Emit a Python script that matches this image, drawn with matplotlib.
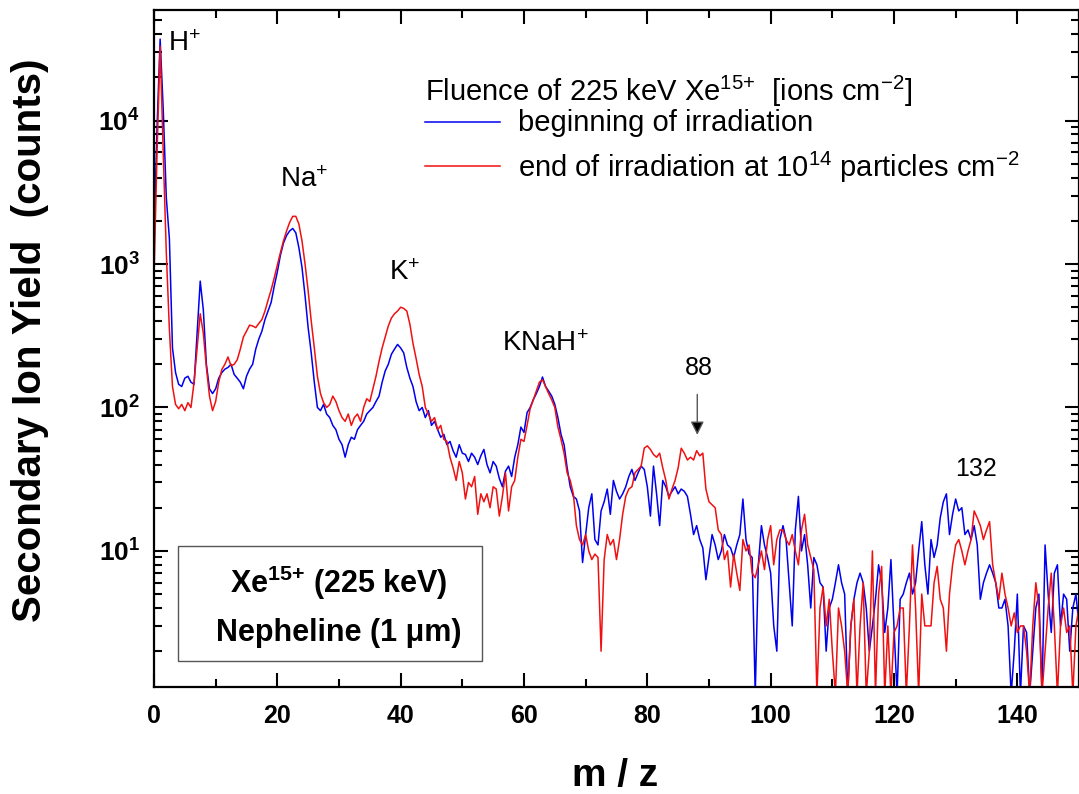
import numpy as np
import matplotlib
matplotlib.use("Agg")
import matplotlib.pyplot as plt
from matplotlib.lines import Line2D
from matplotlib.patches import Rectangle
from matplotlib.ticker import MultipleLocator, LogLocator, NullFormatter

plt.rcParams["font.family"] = ["Liberation Sans", "DejaVu Sans"]
plt.rcParams["mathtext.fontset"] = "custom"
plt.rcParams["mathtext.rm"] = "Liberation Sans"
plt.rcParams["mathtext.bf"] = "Liberation Sans:bold"
plt.rcParams["mathtext.default"] = "regular"

# m/z grid (0.5 steps, 0..150)
mz = np.arange(0, 150.5, 0.5)

# beginning of irradiation (blue)
blue_counts = [
    1500, 9000, 37000, 12000, 2900, 1500, 260, 175, 145, 140,      # 0 - 4.5
    160, 165, 150, 145, 330, 760, 480, 200, 135, 125,              # 5 - 9.5
    135, 160, 175, 185, 190, 200, 170, 160, 150, 135,              # 10 - 14.5
    165, 185, 200, 255, 300, 340, 410, 470, 540, 700,              # 15 - 19.5
    880, 1150, 1400, 1580, 1700, 1770, 1650, 1300, 950, 600,       # 20 - 24.5
    360, 240, 150, 100, 95, 105, 90, 85, 75, 70,                   # 25 - 29.5
    60, 55, 45, 55, 62, 60, 70, 75, 80, 90,                        # 30 - 34.5
    95, 100, 110, 120, 150, 180, 200, 235, 255, 275,               # 35 - 39.5
    260, 240, 190, 160, 140, 110, 95, 100, 85, 95,                 # 40 - 44.5
    75, 80, 70, 62, 65, 55, 58, 50, 45, 55,                        # 45 - 49.5
    48, 47, 42, 48, 45, 40, 46, 51, 40, 35,                        # 50 - 54.5
    42, 39, 32, 28, 36, 39, 33, 45, 55, 73,                        # 55 - 59.5
    67, 92, 100, 113, 125, 140, 163, 140, 130, 120,                # 60 - 64.5
    105, 85, 65, 55, 38, 28, 24, 23, 19, 8.3,                      # 65 - 69.5
    13, 20, 25, 12, 11, 19, 22, 27, 18, 31,                        # 70 - 74.5
    26, 23, 25, 28, 33, 37, 31, 35, 39, 37,                        # 75 - 79.5
    28, 17.5, 39, 25, 15, 31, 28, 24, 26, 28,                      # 80 - 84.5
    25, 27, 26, 24, 18, 13, 15, 12, 10.5, 6.3,                     # 85 - 89.5
    9, 13, 11, 8.7, 10, 13, 11, 10.5, 9, 11,                       # 90 - 94.5
    13, 23, 12, 9.5, 9, 1, 8, 15, 11, 9,                           # 95 - 99.5
    7, 3, 2, 12, 15, 12, 6, 3, 14, 24,                             # 100 - 104.5
    10, 13, 8, 4, 9, 8, 6, 5.6, 2, 4,                              # 105 - 109.5
    4.6, 6, 8, 6, 5, 1, 3, 4.6, 6, 7,                              # 110 - 114.5
    6, 4, 2, 3, 4.6, 8, 6, 2.7, 4, 8.7,                            # 115 - 119.5
    3, 1, 4.6, 5, 6, 7, 5, 6, 10, 16,                              # 120 - 124.5
    8, 5, 12, 9, 11, 17, 22, 25, 13, 18,                           # 125 - 129.5
    23, 19, 20, 13, 14, 12, 15, 11, 4.6, 6,                        # 130 - 134.5
    7, 8, 7, 6, 4, 4, 4.6, 3, 1, 2,                                # 135 - 139.5
    5, 1, 3, 2.7, 1, 2, 4, 5, 1, 11,                               # 140 - 144.5
    5, 2.7, 7, 8, 3, 5, 4.6, 2, 4, 5,                              # 145 - 149.5
    3,                                                             # 150
]

# end of irradiation at 1e14 particles cm-2 (red)
red_counts = [
    800, 6000, 33000, 6000, 1200, 350, 140, 105, 98, 105,          # 0 - 4.5
    95, 108, 100, 150, 260, 450, 330, 190, 120, 95,                # 5 - 9.5
    110, 150, 184, 200, 225, 195, 200, 215, 255, 310,              # 10 - 14.5
    340, 375, 370, 360, 385, 410, 470, 560, 660, 800,              # 15 - 19.5
    980, 1200, 1450, 1700, 1950, 2150, 2150, 1900, 1450, 1000,     # 20 - 24.5
    650, 400, 260, 165, 125, 108, 100, 105, 120, 110,              # 25 - 29.5
    95, 85, 80, 90, 75, 85, 90, 80, 100, 115,                      # 30 - 34.5
    110, 135, 165, 210, 260, 310, 370, 420, 450, 470,              # 35 - 39.5
    500, 490, 470, 380, 280, 220, 170, 140, 100, 90,               # 40 - 44.5
    80, 85, 70, 75, 60, 58, 45, 38, 31, 42,                        # 45 - 49.5
    35, 23, 30, 28, 33, 18, 25, 22, 25, 20,                        # 50 - 54.5
    28, 27, 17.5, 24, 35, 19, 28, 31, 45, 60,                      # 55 - 59.5
    58, 75, 98, 113, 130, 150, 156, 140, 125, 113,                 # 60 - 64.5
    100, 73, 60, 48, 35, 31, 25, 15, 12, 11,                       # 65 - 69.5
    13, 10, 8.7, 9.5, 9, 2, 8.7, 13, 11, 12,                       # 70 - 74.5
    8.7, 12, 18, 24, 27, 28, 35, 37, 39, 52,                       # 75 - 79.5
    54, 51, 47, 45, 48, 38, 31, 23, 27, 31,                        # 80 - 84.5
    38, 52, 48, 43, 45, 43, 50, 46, 48, 27,                        # 85 - 89.5
    22, 21, 20, 14, 13, 8.7, 10, 5.6, 9.5, 7,                      # 90 - 94.5
    5.3, 12, 10, 11, 7, 6.5, 8, 10, 7.4, 12,                       # 95 - 99.5
    15, 8, 12, 14, 14, 12, 11, 13, 10, 8,                          # 100 - 104.5
    14, 18, 11, 9, 7.4, 1, 4, 5.6, 3, 4.6,                         # 105 - 109.5
    2, 1, 4, 3, 2, 1, 3, 4.6, 1, 3,                                # 110 - 114.5
    6, 1, 2, 10, 1, 5, 7.8, 1, 3, 1,                               # 115 - 119.5
    2.7, 3, 4, 4, 1, 3, 11, 4, 1, 5,                               # 120 - 124.5
    3, 3, 3, 6, 7.8, 4.6, 4, 2, 5, 8,                              # 125 - 129.5
    11, 12, 10, 8, 10, 12, 19, 17, 15, 12,                         # 130 - 134.5
    14, 16, 8, 6, 4.6, 7, 5, 4, 3, 3.7,                            # 135 - 139.5
    2.7, 3, 3, 2, 1, 3, 6, 4, 1, 2,                                # 140 - 144.5
    4, 7, 3, 1, 3, 4, 2.7, 3, 1, 3,                                # 145 - 149.5
    4,                                                             # 150
]

peak_labels = ["H$^{+}$", "Na$^{+}$", "K$^{+}$", "KNaH$^{+}$", "88", "132"]
peak_x = [2.2, 24.4, 40.7, 63.4, 88.3, 133.3]
peak_y = [34000, 3860, 870, 278, 187, 37.4]

blue = "#0000f0"
red = "#f01010"

fig = plt.figure(figsize=(10.79, 7.94), dpi=100)
ax = fig.add_axes([0.1427, 0.1344, 0.8573, 0.853])

ax.plot(mz, blue_counts, color=blue, lw=1.1)
ax.plot(mz, red_counts, color=red, lw=1.1)

ax.set_yscale("log")
ax.set_xlim(0, 150)
ax.set_ylim(1.12, 5.9e4)

ax.set_xticks(np.arange(0, 150, 20))
ax.set_xticklabels([str(v) for v in range(0, 150, 20)], fontsize=18, fontweight="bold")
ax.xaxis.set_minor_locator(MultipleLocator(10))
ax.set_yticks([10, 100, 1000, 10000])
ax.set_yticklabels([r"$\mathbf{10^{1}}$", r"$\mathbf{10^{2}}$",
                    r"$\mathbf{10^{3}}$", r"$\mathbf{10^{4}}$"], fontsize=19)
ax.yaxis.set_minor_locator(LogLocator(base=10, subs=np.arange(2, 10)))
ax.yaxis.set_minor_formatter(NullFormatter())

ax.tick_params(which="both", direction="in", top=True, right=True, width=1.5)
ax.tick_params(which="major", length=10, pad=12)
ax.tick_params(axis="y", which="major", pad=10)
ax.tick_params(which="minor", length=5.5)
for s in ax.spines.values():
    s.set_linewidth(1.6)

ax.set_xlabel("m / z", fontsize=28, fontweight="bold")
ax.xaxis.set_label_coords(0.498, -0.104)
ax.set_ylabel("Secondary Ion Yield  (counts)", fontsize=29, fontweight="bold")
ax.yaxis.set_label_coords(-0.113, 0.512)

# peak labels
for lab, x, y in zip(peak_labels, peak_x, peak_y):
    ha = "left" if lab.startswith("H") else "center"
    sz = 18 if lab[0].isdigit() else 20
    ax.text(x, y, lab, fontsize=sz, ha=ha, va="center")

ax.annotate("", xy=(88.1, 61.6), xytext=(88.1, 129),
            arrowprops=dict(arrowstyle="-|>", fc="black", ec="#555555",
                            lw=1.0, mutation_scale=20))

# legend, drawn by hand so the rows sit where the original has them
ax.text(0.293, 0.880, "Fluence of 225 keV Xe$^{15{+}}$  [ions cm$^{-2}$]",
        transform=ax.transAxes, fontsize=21, ha="left", va="center")
legend_rows = [(blue, "beginning of irradiation", 0.8346),
               (red, "end of irradiation at 10$^{14}$ particles cm$^{-2}$", 0.7697)]
for color, label, y in legend_rows:
    ax.add_line(Line2D([0.293, 0.374], [y, y], transform=ax.transAxes,
                       color=color, lw=1.1))
    ax.text(0.3935, y - 0.002, label, transform=ax.transAxes, fontsize=21,
            ha="left", va="center")

# sample box
ax.add_patch(Rectangle((0.026, 0.0388), 0.3286, 0.1702, transform=ax.transAxes,
                       fill=False, ec="#555555", lw=1.0))
ax.text(0.2, 0.154, r"Xe$^{\mathbf{15{+}}}$ (225 keV)", transform=ax.transAxes,
        fontsize=22, fontweight="bold", ha="center", va="center")
ax.text(0.2, 0.080, "Nepheline (1 \u03bcm)", transform=ax.transAxes,
        fontsize=22, fontweight="bold", ha="center", va="center")

fig.savefig("out.png", dpi=100)
